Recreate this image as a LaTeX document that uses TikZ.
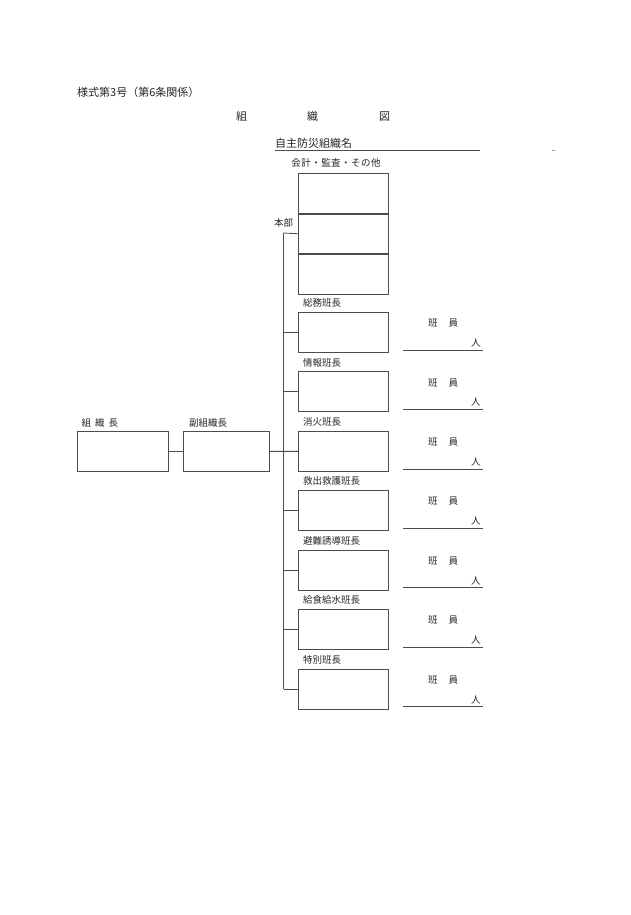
\documentclass[tikz,border=0pt]{standalone}
\usepackage{fontspec}
\setmainfont{Noto Sans CJK JP}
\begin{document}
\begin{tikzpicture}[x=1pt,y=-1pt,
  ln/.style={draw=black!70, line width=0.8pt},
  box/.style={draw=black!70, line width=0.8pt, minimum width=90pt, minimum height=40pt, inner sep=0pt, anchor=north west},
  lbl/.style={anchor=west, inner sep=0pt, text=black!85, font=\fontsize{9.5}{10}\selectfont},
  big/.style={anchor=west, inner sep=0pt, text=black!85, font=\fontsize{11}{12}\selectfont}]
\fill[white] (0,0) rectangle (630,915);
\useasboundingbox (0,0) rectangle (630,915);

% headings
\node[big] (title) at (77,92) {様式第3号（第6条関係）};
\node[big] (head) at (236,116) {組\hspace{60pt}織\hspace{61pt}図};
\node[big] (org) at (275,143) {自主防災組織名};
\coordinate (ula) at (275,150);
\coordinate (ulb) at (480,150);
\draw[ln, line width=0.5pt] (ula) -- (ulb);
\coordinate (da) at (552,150);
\coordinate (db) at (555,150);
\draw[ln, line width=0.5pt, draw=black!40] (da) -- (db);

% top stack
\node[lbl, anchor=center, font=\fontsize{9.5}{10}\selectfont\addfontfeature{LetterSpace=5}] (kaikei) at (336,163) {会計・監査・その他};
\node[box, minimum height=39.7pt] (h0) at (298,173) {};
\node[box, minimum height=39.7pt] (h1) at (h0.south west) {};
\node[box, minimum height=39.7pt] (h2) at (h1.south west) {};
\node[lbl, anchor=center] (honbu) at (283.5,223) {本部};

% left boxes
\node[lbl] (lchief) at (81.5,423) {組\hspace{4pt}織\hspace{4pt}長};
\node[box, minimum width=91pt] (chief) at (77,431) {};
\node[lbl] (lvice) at (189,423) {副組織長};
\node[box, minimum width=86pt] (vice) at (183,431) {};

% trunk
\coordinate (tt) at (283.5,233);

\foreach \t [count=\i from 0] in {総務班長,情報班長,消火班長,救出救護班長,避難誘導班長,給食給水班長,特別班長} {
  \pgfmathsetmacro\yy{312+59.45*\i}
  \node[box] (b\i) at (298,\yy) {};
  \node[lbl] (l\i) at (303,\yy-9) {\t};
  \node[lbl] (m\i) at (428,\yy+11) {班\hspace{11pt}員};
  \node[lbl] (p\i) at (471,\yy+31) {人};
  \coordinate (ua\i) at (403,\yy+38);
  \coordinate (ub\i) at (483,\yy+38);
  \draw[ln] (ua\i) -- (ub\i);
  \draw[ln] (tt |- b\i.west) -- (b\i.west);
}

\draw[ln] (h1.west) -- (tt) -- (tt |- b6.west);
\draw[ln] (chief.east) -- (vice.west);
\draw[ln] (vice.east) -- (b2.west);
\end{tikzpicture}
\end{document}
